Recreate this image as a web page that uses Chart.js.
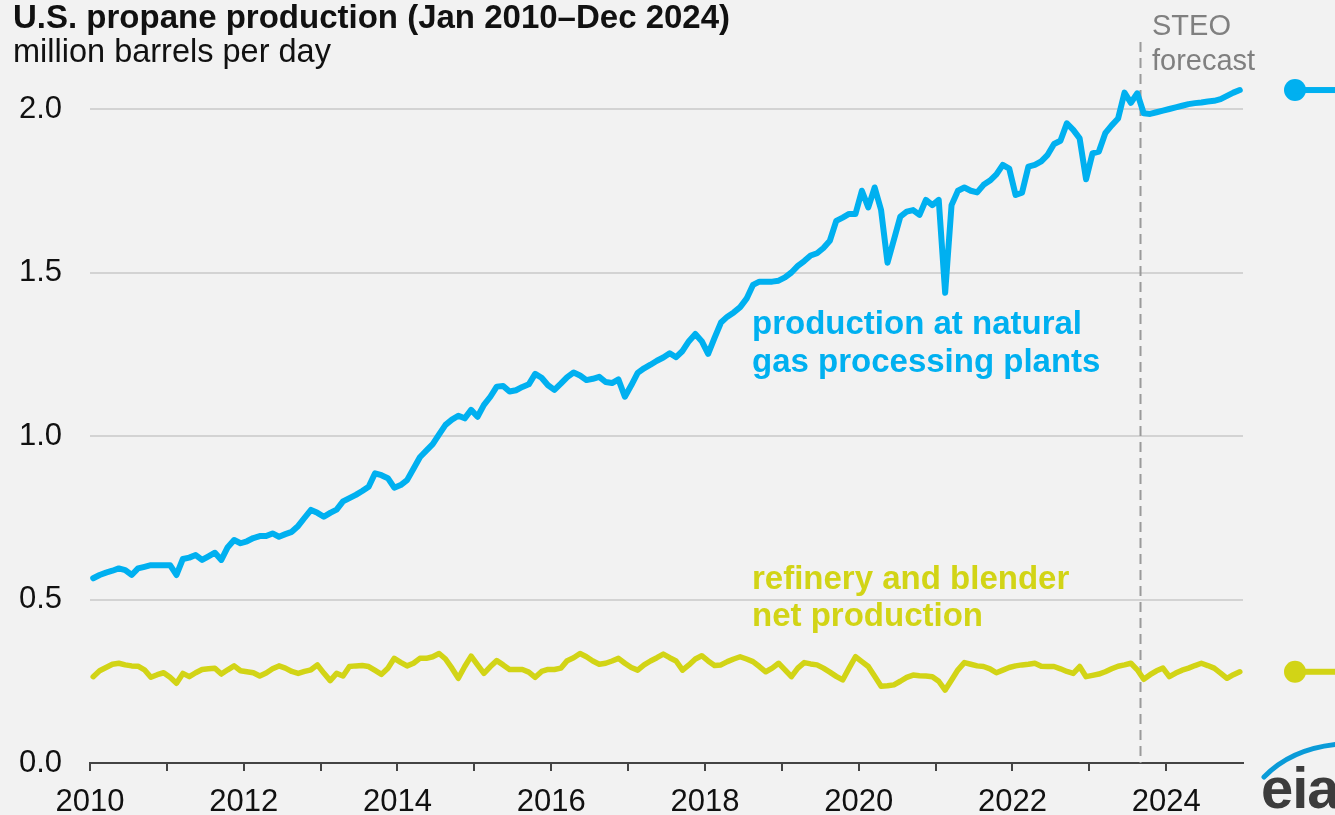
<!DOCTYPE html>
<html><head><meta charset="utf-8">
<script src="https://cdn.jsdelivr.net/npm/chart.js@4.4.1/dist/chart.umd.min.js"></script>
<style>
html,body{margin:0;padding:0;background:#f2f2f2;width:1335px;height:815px;overflow:hidden;}
#wrap{position:relative;width:1335px;height:815px;overflow:hidden;}
canvas{position:absolute;left:0;top:0;}
.t{position:absolute;font-family:'Liberation Sans',Arial,Helvetica,sans-serif;white-space:nowrap;}
</style></head><body>
<div id="wrap">
<canvas id="c" width="1335" height="815"></canvas>
<div class="t" style="left:13px;top:0px;font-size:33px;line-height:33px;font-weight:bold;color:#111">U.S. propane production (Jan 2010–Dec 2024)</div>
<div class="t" style="left:13px;top:35px;font-size:32.5px;line-height:33px;color:#111">million barrels per day</div>
<div class="t" style="left:752px;top:304px;font-size:33px;line-height:38px;font-weight:bold;color:#00b0f0">production at natural<br>gas processing plants</div>
<div class="t" style="left:752px;top:559px;font-size:33px;line-height:37px;font-weight:bold;color:#d2d416">refinery and blender<br>net production</div>
<div class="t" style="left:1152px;top:8px;font-size:29px;line-height:35px;color:#808080">STEO<br>forecast</div>
<div class="t" style="left:1261px;top:759px;font-size:58px;line-height:58px;font-weight:bold;color:#3c3c3c;letter-spacing:-1px">eia</div>
</div>
<script>
// ---- data ----
const years = [2010,2011,2012,2013,2014,2015,2016,2017,2018,2019,2020,2021,2022,2023,2024];
const monthCodes = ['01','02','03','04','05','06','07','08','09','10','11','12'];
const xTickYears = ['2010','2012','2014','2016','2018','2020','2022','2024'];
const yTicks = [0, 0.5, 1.0, 1.5, 2.0];
const forecastStart = '2023-09';

const gasPlants = [
  0.565,0.575,0.582,0.588,0.595,0.590,0.575,0.595,0.600,0.605,0.605,0.605,
  0.605,0.575,0.624,0.628,0.636,0.621,0.632,0.643,0.621,0.660,0.682,0.672,
  0.678,0.688,0.694,0.694,0.702,0.692,0.700,0.707,0.725,0.750,0.774,0.765,
  0.753,0.765,0.775,0.800,0.810,0.820,0.832,0.845,0.886,0.880,0.871,0.842,
  0.850,0.865,0.900,0.935,0.955,0.975,1.005,1.034,1.050,1.062,1.054,1.080,
  1.059,1.095,1.120,1.151,1.153,1.136,1.140,1.150,1.158,1.190,1.178,1.155,
  1.141,1.160,1.180,1.194,1.185,1.171,1.175,1.181,1.165,1.162,1.173,1.120,
  1.155,1.193,1.207,1.218,1.230,1.240,1.253,1.241,1.260,1.290,1.312,1.290,
  1.251,1.300,1.347,1.365,1.378,1.394,1.420,1.462,1.472,1.472,1.472,1.475,
  1.485,1.500,1.520,1.535,1.552,1.559,1.575,1.597,1.658,1.668,1.679,1.679,
  1.750,1.699,1.760,1.691,1.530,1.600,1.671,1.686,1.691,1.676,1.722,1.706,
  1.722,1.438,1.706,1.750,1.760,1.750,1.745,1.768,1.781,1.800,1.829,1.818,
  1.737,1.744,1.824,1.829,1.840,1.860,1.893,1.903,1.956,1.936,1.910,1.785,
  1.864,1.870,1.926,1.950,1.971,2.050,2.019,2.048,1.987,1.985,1.990,1.995,
  2.000,2.005,2.010,2.015,2.018,2.020,2.023,2.025,2.030,2.040,2.050,2.058
];
const refinery = [
  0.264,0.282,0.292,0.302,0.305,0.300,0.297,0.296,0.285,0.262,0.270,0.276,
  0.262,0.244,0.274,0.264,0.276,0.286,0.288,0.290,0.272,0.285,0.297,0.282,
  0.279,0.276,0.266,0.275,0.288,0.297,0.290,0.280,0.274,0.280,0.285,0.300,
  0.275,0.252,0.274,0.266,0.295,0.297,0.298,0.295,0.283,0.271,0.290,0.320,
  0.308,0.297,0.305,0.320,0.320,0.325,0.335,0.318,0.290,0.259,0.295,0.327,
  0.300,0.274,0.295,0.313,0.300,0.286,0.286,0.286,0.278,0.262,0.280,0.286,
  0.286,0.290,0.313,0.322,0.335,0.325,0.312,0.302,0.305,0.312,0.320,0.305,
  0.292,0.284,0.300,0.312,0.322,0.333,0.322,0.312,0.284,0.300,0.318,0.328,
  0.312,0.298,0.300,0.310,0.318,0.325,0.318,0.310,0.295,0.279,0.290,0.305,
  0.285,0.264,0.290,0.307,0.303,0.300,0.290,0.278,0.265,0.254,0.290,0.325,
  0.310,0.295,0.265,0.235,0.236,0.239,0.250,0.262,0.269,0.267,0.266,0.264,
  0.250,0.223,0.254,0.285,0.307,0.302,0.297,0.295,0.288,0.276,0.284,0.292,
  0.297,0.300,0.302,0.305,0.296,0.295,0.295,0.288,0.280,0.274,0.295,0.264,
  0.268,0.272,0.279,0.288,0.296,0.300,0.305,0.285,0.256,0.270,0.282,0.290,
  0.264,0.275,0.284,0.290,0.298,0.305,0.298,0.290,0.275,0.259,0.270,0.279
];

const labels = [];
years.forEach(y => monthCodes.forEach(m => labels.push(y + '-' + m)));

const BLUE = '#00b0f0', YELLOW = '#d2d416';

const overlay = {
  id: 'overlay',
  beforeDatasetsDraw(chart) {
    const {ctx, chartArea, scales: {x}} = chart;
    const i = labels.indexOf(forecastStart);
    const px = (x.getPixelForValue(i - 1) + x.getPixelForValue(i)) / 2;
    ctx.save();
    ctx.strokeStyle = '#9a9a9a'; ctx.lineWidth = 2; ctx.setLineDash([10, 6]);
    ctx.beginPath(); ctx.moveTo(px, 42); ctx.lineTo(px, chartArea.bottom); ctx.stroke();
    ctx.restore();
  },
  afterDatasetsDraw(chart) {
    const {ctx, scales: {y}} = chart;
    ctx.save();
    chart.data.datasets.forEach(ds => {
      const py = y.getPixelForValue(ds.data[ds.data.length - 1]);
      ctx.fillStyle = ds.borderColor;
      ctx.beginPath(); ctx.arc(1295, py, 11, 0, Math.PI * 2); ctx.fill();
      ctx.fillRect(1295, py - 3, 45, 6);
    });
    // eia swoosh
    ctx.strokeStyle = '#0a9bd8'; ctx.lineWidth = 5; ctx.lineCap = 'round';
    ctx.beginPath(); ctx.moveTo(1264, 777); ctx.quadraticCurveTo(1292, 748, 1340, 744); ctx.stroke();
    ctx.restore();
  }
};

Chart.defaults.font.family = "'Liberation Sans', Arial, Helvetica, sans-serif";

new Chart(document.getElementById('c'), {
  type: 'line',
  data: {
    labels: labels,
    datasets: [
      {label: 'production at natural gas processing plants', data: gasPlants, borderColor: BLUE,
       borderWidth: 6, pointRadius: 0, tension: 0, clip: false, borderJoinStyle: 'round', borderCapStyle: 'round'},
      {label: 'refinery and blender net production', data: refinery, borderColor: YELLOW,
       borderWidth: 5.5, pointRadius: 0, tension: 0, clip: false, borderJoinStyle: 'round', borderCapStyle: 'round'}
    ]
  },
  options: {
    responsive: false,
    animation: false,
    events: [],
    layout: {padding: {left: 0, right: 92, top: 109, bottom: 0}},
    plugins: {legend: {display: false}, tooltip: {enabled: false}},
    scales: {
      x: {
        type: 'category',
        offset: true,
        afterFit: s => { s.height = 52; },
        grid: {
          offset: true, drawOnChartArea: false, drawTicks: true, tickLength: 8, lineWidth: 2,
          color: ctx => (ctx.index % 12 === 0 ? '#444' : 'rgba(0,0,0,0)')
        },
        border: {display: true, color: '#444', width: 2},
        ticks: {
          autoSkip: false, maxRotation: 0, minRotation: 0, padding: 13, labelOffset: -3.2,
          color: '#111', font: {size: 31},
          callback: (v, i) => {
            const l = labels[i];
            const yr = l.slice(0, 4);
            return (l.endsWith('-01') && xTickYears.includes(yr)) ? yr : '';
          }
        }
      },
      y: {
        min: yTicks[0], max: yTicks[yTicks.length - 1],
        afterFit: s => { s.width = 90; },
        afterBuildTicks: s => { s.ticks = yTicks.map(v => ({value: v})); },
        grid: {color: '#d3d3d3', lineWidth: 2, drawTicks: false},
        border: {display: false},
        ticks: {padding: 28, color: '#111', font: {size: 31}, callback: v => v.toFixed(1)}
      }
    }
  },
  plugins: [overlay]
});
</script>
</body></html>
